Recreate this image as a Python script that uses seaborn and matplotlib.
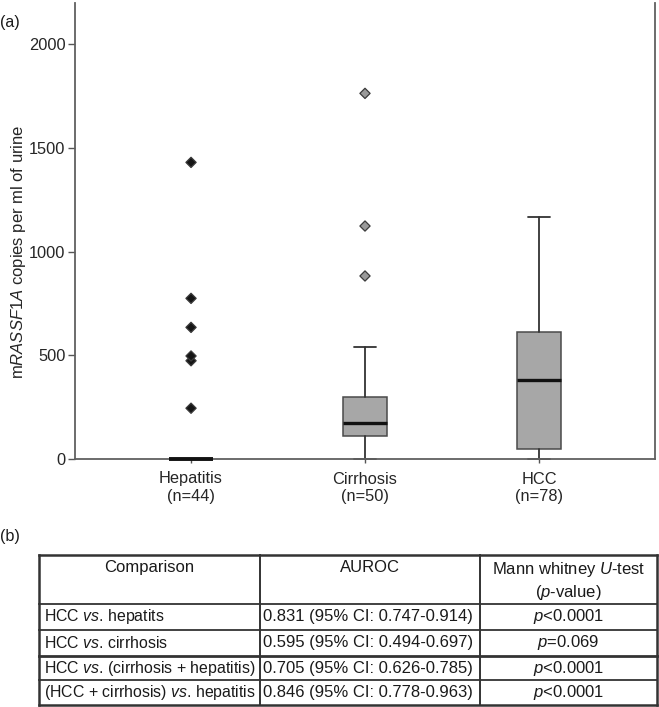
import matplotlib
matplotlib.use("Agg")
import matplotlib.pyplot as plt
import pandas as pd
import seaborn as sns

# ---- panel (a): box summaries ----
groups = ["Hepatitis", "Cirrhosis", "HCC"]
group_n = [44, 50, 78]
whis_lo = [0, 0, 0]
q1 = [0, 112, 50]
median = [0, 172, 381]
q3 = [0, 301, 611]
whis_hi = [0, 542, 1169]

hep_outliers = [245, 474, 497, 635, 775, 1431]
cir_outliers = [883, 1124, 1764]
hcc_outliers = []

# ---- panel (b): table ----
table_header = ["Comparison", "AUROC", "Mann whitney $\\mathit{U}$-test\n($\\mathit{p}$-value)"]
comparisons = [
    "HCC $\\mathit{vs}$. hepatits",
    "HCC $\\mathit{vs}$. cirrhosis",
    "HCC $\\mathit{vs}$. (cirrhosis + hepatitis)",
    "(HCC + cirrhosis) $\\mathit{vs}$. hepatitis",
]
auroc = [
    "0.831 (95% CI: 0.747-0.914)",
    "0.595 (95% CI: 0.494-0.697)",
    "0.705 (95% CI: 0.626-0.785)",
    "0.846 (95% CI: 0.778-0.963)",
]
pvals = [
    "$\\mathit{p}$<0.0001",
    "$\\mathit{p}$=0.069",
    "$\\mathit{p}$<0.0001",
    "$\\mathit{p}$<0.0001",
]

sns.set_style("white")
plt.rcParams["font.family"] = ["Liberation Sans", "DejaVu Sans"]
plt.rcParams["mathtext.fontset"] = "custom"
plt.rcParams["mathtext.rm"] = "Liberation Sans"
plt.rcParams["mathtext.it"] = "Liberation Sans:italic"
plt.rcParams["text.color"] = "#1a1a1a"

W, H = 659, 707
fig = plt.figure(figsize=(W / 100, H / 100), dpi=100)
ax = fig.add_axes([75 / W, 1 - 459 / H, 580 / W, 456 / H])

outliers = pd.DataFrame({
    "group": ["Hepatitis"] * len(hep_outliers) + ["Cirrhosis"] * len(cir_outliers) + ["HCC"] * len(hcc_outliers),
    "value": hep_outliers + cir_outliers + hcc_outliers,
})
sns.stripplot(data=outliers, x="group", y="value", hue="group", order=groups,
              palette={"Hepatitis": "#151515", "Cirrhosis": "#9a9a9a", "HCC": "#9a9a9a"},
              marker="D", size=5.2, jitter=False, linewidth=0.9, edgecolor="#3a3a3a",
              legend=False, ax=ax, zorder=3)

stats = [dict(whislo=whis_lo[i], q1=q1[i], med=median[i], q3=q3[i], whishi=whis_hi[i], fliers=[])
         for i in range(len(groups))]
art = ax.bxp(stats, positions=range(len(groups)), widths=0.25, capwidths=0.125,
             showfliers=False, patch_artist=True, manage_ticks=False,
             boxprops=dict(facecolor="#a7a7a7", edgecolor="#4a4a4a", linewidth=1.1),
             whiskerprops=dict(color="#333333", linewidth=1.3),
             capprops=dict(color="#333333", linewidth=1.3),
             medianprops=dict(color="#111111", linewidth=2.4))
for key in art:
    for a in art[key]:
        a.set_clip_on(False)
for m in art["medians"]:
    m.set_zorder(4)
art["medians"][0].set_linewidth(2.8)

ax.set_xlim(-0.667, 2.667)
ax.set_ylim(0, 2200)
ax.set_yticks([0, 500, 1000, 1500, 2000])
ax.set_xticks(range(len(groups)))
ax.set_xticklabels([f"{g}\n(n={n})" for g, n in zip(groups, group_n)], fontsize=11.8)
ax.tick_params(axis="y", labelsize=11.8, length=5, width=1, color="#555555", pad=2, left=True)
ax.tick_params(axis="x", length=3, width=1, color="#555555", pad=6, bottom=True)
ax.set_xlabel("")
ax.set_ylabel("m$\\mathit{RASSF1A}$ copies per ml of urine", fontsize=12, va="center")
ax.yaxis.set_label_coords(-0.098, 0.454)
ax.spines["top"].set_visible(False)
for s in ["left", "right", "bottom"]:
    ax.spines[s].set_color("#606060")
    ax.spines[s].set_linewidth(1.3)

fig.text(0, 1 - 22 / H, "(a)", fontsize=11.6, va="center", ha="left")
fig.text(0, 1 - 537 / H, "(b)", fontsize=11.6, va="center", ha="left")

# ---- table drawn in pixel units ----
tx0, tx1, ty0, ty1 = 39, 657, 555, 705
tax = fig.add_axes([tx0 / W, 1 - ty1 / H, (tx1 - tx0) / W, (ty1 - ty0) / H])
tax.set_xlim(0, tx1 - tx0)
tax.set_ylim(ty1 - ty0, 0)
tax.axis("off")
col_edges = [0, 221, 441, tx1 - tx0]
row_edges = [0, 49, 75, 101, 125, ty1 - ty0]
for i, x in enumerate(col_edges):
    lw = 1.8 if i in (0, len(col_edges) - 1) else 1.4
    tax.plot([x, x], [0, row_edges[-1]], color="#333333", lw=lw, clip_on=False, solid_capstyle="projecting")
for i, y in enumerate(row_edges):
    lw = 1.8 if i in (0, len(row_edges) - 1) else (2.0 if i == 3 else 1.3)
    tax.plot([0, col_edges[-1]], [y, y], color="#333333", lw=lw, clip_on=False, solid_capstyle="projecting")

fs = 12
for j, head in enumerate(table_header):
    cx = (col_edges[j] + col_edges[j + 1]) / 2
    tax.text(cx, 5, head, ha="center", va="top", fontsize=fs, linespacing=1.25)
for i in range(len(comparisons)):
    cy = (row_edges[i + 1] + row_edges[i + 2]) / 2
    tax.text(col_edges[0] + 5, cy, comparisons[i], ha="left", va="center", fontsize=11.4)
    tax.text(col_edges[1] + 3, cy, auroc[i], ha="left", va="center", fontsize=fs)
    tax.text((col_edges[2] + col_edges[3]) / 2, cy, pvals[i], ha="center", va="center", fontsize=fs)

fig.savefig("out.png", dpi=100)
